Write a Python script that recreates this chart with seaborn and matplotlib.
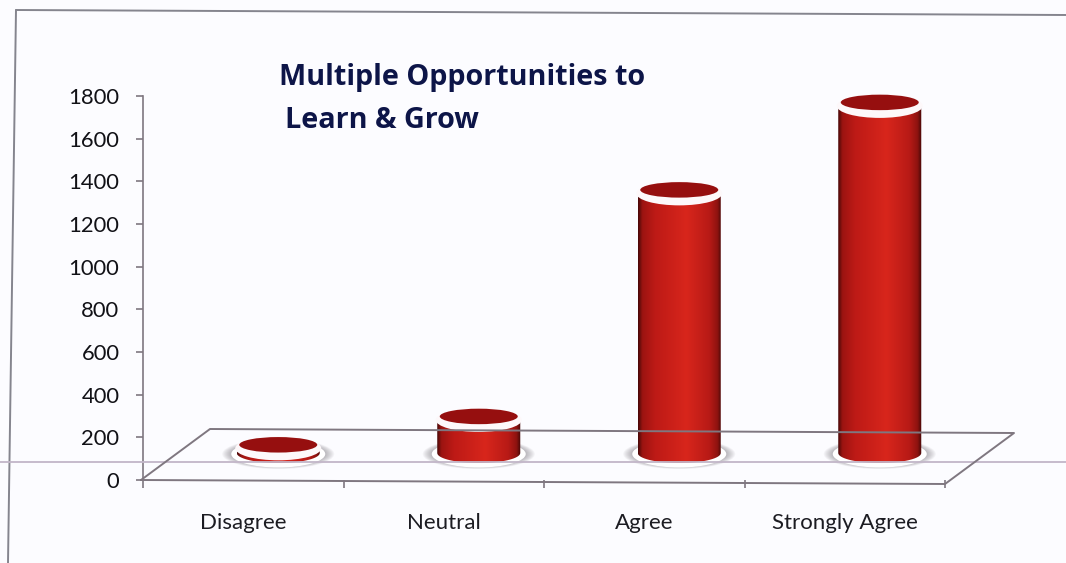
import numpy as np
import pandas as pd
import matplotlib
matplotlib.use('Agg')
import matplotlib.pyplot as plt
import matplotlib.transforms as mtransforms
from matplotlib.colors import LinearSegmentedColormap
from matplotlib.lines import Line2D
from matplotlib.patches import Ellipse, Polygon
import seaborn as sns

# Data
categories = ['Disagree', 'Neutral', 'Agree', 'Strongly Agree']
counts = [22, 155, 1217, 1627]
y_ticks = [0, 200, 400, 600, 800, 1000, 1200, 1400, 1600, 1800]
title_lines = ['Multiple Opportunities to', 'Learn & Grow']

W, H = 1066, 563
PAPER = '#fcfcff'
AXIS = '#7f7780'

sns.set_theme(style='white')
plt.rcParams['font.family'] = ['Lato', 'DejaVu Sans']

fig = plt.figure(figsize=(W / 100, H / 100), dpi=100, facecolor=PAPER)
left, right, top, bottom = 143, 945, 96, 480
ax = fig.add_axes([left / W, 1 - bottom / H, (right - left) / W, (bottom - top) / H])
ax.set_facecolor('none')

df = pd.DataFrame({'category': categories, 'count': counts})
sns.barplot(data=df, x='category', y='count', order=categories, width=0.414,
            color='#b01c18', ax=ax, zorder=4)
ax.set_xlim(-0.5, 3.5)
ax.set_ylim(0, 1800)
ax.set_xlabel('')
ax.set_ylabel('')
ax.set_yticks(y_ticks)

# Axis styling, x ticks sit on the category boundaries
ax.spines['top'].set_visible(False)
ax.spines['right'].set_visible(False)
ax.spines['bottom'].set_visible(False)
ax.spines['left'].set_color(AXIS)
ax.spines['left'].set_linewidth(1.2)
ax.set_xticks(np.arange(-0.5, 4, 1), minor=True)
ax.tick_params(axis='x', which='minor', bottom=True, length=6, width=1.2, color=AXIS)
ax.tick_params(axis='x', which='major', bottom=False, labelsize=16, pad=18,
               labelcolor='#1c1c22')
ax.tick_params(axis='y', left=True, length=5, width=1.2, color=AXIS, labelsize=15.8,
               pad=12, labelcolor='#111116')


def fig_line(xs, ys, color=AXIS, lw=1.4, z=1):
    fig.add_artist(Line2D(np.array(xs) / W, 1 - np.array(ys) / H, color=color, lw=lw, zorder=z))


# Scanned page frame and stray line
fig_line([16, 1066], [10, 15], '#85858e', 1.4)
fig_line([16, 8], [10, 563], '#85858e', 1.4)
fig_line([0, 1066], [462, 462], '#c2b6c8', 1.3)

# Floor of the 3D box
fig_line([141, 210, 1014, 945, 141], [480, 429, 433, 484, 480], z=1.5)

# Bars are pushed back onto the floor
dx, dy = 35, 27
bar_trans = mtransforms.offset_copy(ax.transData, fig=fig, x=dx, y=dy, units='dots')
unit_x = 4 / (right - left)
unit_y = 1800 / (bottom - top)

shade = LinearSegmentedColormap.from_list('cyl', [
    (0.0, '#4a0808'), (0.05, '#9c1411'), (0.2, '#bd1a16'), (0.58, '#d8261c'),
    (0.85, '#b81a16'), (0.95, '#8f1310'), (1.0, '#440707')])
gradient = np.linspace(0, 1, 128).reshape(1, -1)

for bar in list(ax.patches):
    x0 = bar.get_x()
    w = bar.get_width()
    h = bar.get_height()
    xc = x0 + w / 2
    bar.set_transform(bar_trans)
    bar.set_linewidth(0)

    # soft shadow and white foot under the cylinder
    for grow in range(2, 22, 2):
        ax.add_patch(Ellipse((xc, -1 * unit_y), (92 + grow) * unit_x, (24 + grow * 0.3) * unit_y,
                             fc='#6f6a72', ec='none', alpha=0.06, transform=bar_trans,
                             zorder=2, clip_on=False))
    ax.add_patch(Ellipse((xc, -1 * unit_y), 94 * unit_x, 27 * unit_y, fc='white', ec='none',
                         transform=bar_trans, zorder=3, clip_on=False))

    # cylinder body: shaded image clipped to rectangle with rounded bottom
    t = np.linspace(np.pi, 2 * np.pi, 40)
    lower = np.column_stack([xc + w / 2 * np.cos(t), 10 * unit_y * np.sin(t)])
    outline = np.vstack([[x0, h], lower, [x0 + w, h]])
    clip = Polygon(outline, closed=True, transform=bar_trans, fc='none', ec='none')
    ax.add_patch(clip)
    im = ax.imshow(gradient, extent=[x0, x0 + w, -12 * unit_y, h], aspect='auto', cmap=shade,
                   transform=bar_trans, zorder=4.5, interpolation='bilinear')
    im.set_clip_path(clip)
    bar.set_visible(False)

    # white rim and dark top
    ax.add_patch(Ellipse((xc, h), 86 * unit_x, 24 * unit_y, fc='#fdf8fa', ec='none',
                         transform=bar_trans, zorder=5, clip_on=False))
    ax.add_patch(Ellipse((xc, h + 3.5 * unit_y), 78 * unit_x, 15.5 * unit_y, fc='#960f0f', ec='none',
                         transform=bar_trans, zorder=6, clip_on=False))

ax.set_xlim(-0.5, 3.5)
ax.set_ylim(0, 1800)

# Title is placed inside the plot, not above it
fig.text(279 / W, 1 - 78 / H, title_lines[0], fontsize=20.7, fontweight='bold', color='#0d1548',
         va='center', ha='left', family='Open Sans')
fig.text(285 / W, 1 - 120 / H, title_lines[1], fontsize=20.7, fontweight='bold', color='#0d1548',
         va='center', ha='left', family='Open Sans')

fig.savefig('out.png', dpi=100, facecolor=fig.get_facecolor())
